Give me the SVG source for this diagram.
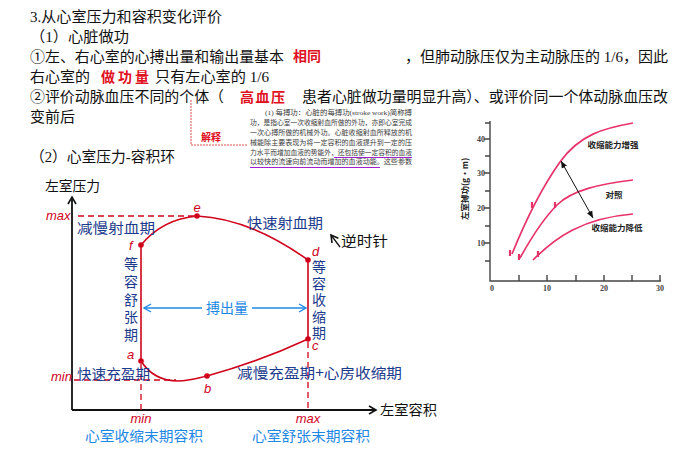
<svg xmlns="http://www.w3.org/2000/svg" width="696" height="461" viewBox="0 0 696 461">
<defs>
<style>
.body{font-family:"Liberation Serif","Noto Sans CJK SC",serif;font-size:15px;fill:#111}
.hl{font-family:"Noto Sans CJK SC",sans-serif;font-size:14px;fill:#e0101e;font-weight:bold}
.scan{font-family:"Liberation Serif","Noto Sans CJK SC",serif;font-size:7px;fill:#3a3a3a}
.hand{font-family:"Noto Sans CJK SC",sans-serif;font-size:14px}
.navy{fill:#1c3b8c}
.lblue{fill:#1e88e5}
.blk{fill:#111}
.vert{writing-mode:vertical-rl;text-orientation:upright}
.rit{font-family:"Liberation Sans",sans-serif;font-style:italic;font-size:13px;fill:#d0021b}
.loop{fill:none;stroke:#d0021b;stroke-width:1.6}
.dash{fill:none;stroke:#d0021b;stroke-width:1.3;stroke-dasharray:6,4}
.pink{fill:none;stroke:#e8336a;stroke-width:1.7}
.axis{fill:none;stroke:#111;stroke-width:1.8}
.cax{fill:none;stroke:#444;stroke-width:1.4}
.tick{font-family:"Liberation Serif",serif;font-size:8px;font-weight:bold;fill:#444}
.clab{font-family:"Noto Sans CJK SC",sans-serif;font-size:8.5px;font-weight:bold;fill:#222}
.dot{fill:#d0021b}
</style>
<marker id="chev" markerWidth="10" markerHeight="10" refX="8" refY="5" orient="auto" markerUnits="userSpaceOnUse">
<path d="M1,1 L8,5 L1,9" fill="none" stroke="#111" stroke-width="1.6"/>
</marker>
<marker id="chevb" markerWidth="10" markerHeight="10" refX="8" refY="5" orient="auto-start-reverse" markerUnits="userSpaceOnUse">
<path d="M1,1 L8,5 L1,9" fill="none" stroke="#1e88e5" stroke-width="1.4"/>
</marker>
<marker id="tri" markerWidth="8" markerHeight="8" refX="7" refY="4" orient="auto-start-reverse" markerUnits="userSpaceOnUse">
<path d="M0,1 L7,4 L0,7 Z" fill="#111"/>
</marker>
</defs>
<rect width="696" height="461" fill="#fff"/>

<g id="heading-text">
<text class="body" x="30" y="22" textLength="192" lengthAdjust="spacingAndGlyphs">3.从心室压力和容积变化评价</text>
<text class="body" x="30" y="42" textLength="99" lengthAdjust="spacingAndGlyphs">（1）心脏做功</text>
<text class="body" x="30" y="62" textLength="254" lengthAdjust="spacingAndGlyphs">①左、右心室的心搏出量和输出量基本</text>
<text class="hl" x="293" y="61" textLength="28">相同</text>
<text class="body" x="405" y="62" textLength="263" lengthAdjust="spacingAndGlyphs">，但肺动脉压仅为主动脉压的 1/6，因此</text>
<text class="body" x="30" y="82" textLength="60" lengthAdjust="spacingAndGlyphs">右心室的</text>
<text class="hl" x="101" y="82" textLength="48">做功量</text>
<text class="body" x="155" y="82" textLength="114" lengthAdjust="spacingAndGlyphs">只有左心室的 1/6</text>
<text class="body" x="30" y="102" textLength="194" lengthAdjust="spacingAndGlyphs">②评价动脉血压不同的个体（</text>
<text class="hl" x="240" y="102" textLength="45">高血压</text>
<text class="body" x="302" y="102" textLength="366" lengthAdjust="spacingAndGlyphs">患者心脏做功量明显升高）、或评价同一个体动脉血压改</text>
<text class="body" x="30" y="122" textLength="45" lengthAdjust="spacingAndGlyphs">变前后</text>
<text class="body" x="30" y="162" textLength="145" lengthAdjust="spacingAndGlyphs">（2）心室压力-容积环</text>
</g>

<g id="note">
<path d="M191,100 L191,145 L247,145" fill="none" stroke="#d9534f" stroke-width="1" stroke-dasharray="2,1"/>
<text x="201" y="141" font-family="Noto Sans CJK SC, sans-serif" font-size="10" font-weight="bold" fill="#e0101e">解释</text>
<text class="scan" x="265" y="115" textLength="147" lengthAdjust="spacingAndGlyphs">(1) 每搏功：心脏的每搏功(stroke work)简称搏</text>
<text class="scan" x="250" y="125" textLength="162" lengthAdjust="spacingAndGlyphs">功，是指心室一次收缩射血所做的外功，亦即心室完成</text>
<text class="scan" x="250" y="134.5" textLength="162" lengthAdjust="spacingAndGlyphs">一次心搏所做的机械外功。心脏收缩射血所释放的机</text>
<text class="scan" x="250" y="144.5" textLength="162" lengthAdjust="spacingAndGlyphs">械能除主要表现为将一定容积的血液提升到一定的压</text>
<text class="scan" x="250" y="154.5" textLength="162" lengthAdjust="spacingAndGlyphs">力水平而增加血液的势能外，还包括使一定容积的血液</text>
<text class="scan" x="250" y="164" textLength="162" lengthAdjust="spacingAndGlyphs">以较快的流速向前流动而增加的血液动能。这些参数</text>
<path d="M334,157.5 L412,157.5 M250,167.5 L380,167.5" stroke="#a020d0" stroke-width="1.1" fill="none"/>
</g>

<g id="sv-chart">
<path class="cax" d="M490,121 L490,281 L661,281"/>
<path class="cax" d="M490,123 h-5 M490,139 h-6 M490,156 h-5 M490,173 h-6 M490,191 h-5 M490,208 h-6 M490,226 h-5 M490,243 h-6 M490,261 h-5"/>
<path class="cax" d="M519,281 v-6 M547,281 v-6 M576,281 v-6 M604,281 v-6 M632,281 v-6 M660,281 v-6"/>
<text class="tick" x="485" y="142" text-anchor="end">40</text>
<text class="tick" x="485" y="176" text-anchor="end">30</text>
<text class="tick" x="485" y="211" text-anchor="end">20</text>
<text class="tick" x="485" y="246" text-anchor="end">10</text>
<text class="tick" x="492" y="291" text-anchor="middle">0</text>
<text class="tick" x="547" y="291" text-anchor="middle">10</text>
<text class="tick" x="604" y="291" text-anchor="middle">20</text>
<text class="tick" x="660" y="291" text-anchor="middle">30</text>
<text class="clab" x="0" y="0" transform="translate(468,189) rotate(-90)" text-anchor="middle" font-size="8">左室搏功(g·m)</text>
<path class="pink" d="M512,254 C525,222 540,190 560,162 S605,128 633,123"/>
<path class="pink" d="M520,258 C530,240 542,220 557,205 S600,184 633,180"/>
<path class="pink" d="M533,260 C555,238 582,218 633,214"/>
<path d="M510,250 v6 M532,202 v6 M519,254 v6 M555,202 v6 M538,251 v6" stroke="#e8336a" stroke-width="2.2"/>
<line x1="561" y1="161" x2="593" y2="218" stroke="#111" stroke-width="1" marker-start="url(#tri)" marker-end="url(#tri)"/>
<text class="clab" x="613" y="148" text-anchor="middle">收缩能力增强</text>
<text class="clab" x="614" y="198" text-anchor="middle">对照</text>
<text class="clab" x="617" y="231" text-anchor="middle">收缩能力降低</text>
</g>

<g id="pv-axes">
<line class="axis" x1="72" y1="410" x2="72" y2="197" marker-end="url(#chev)"/>
<line class="axis" x1="72" y1="410" x2="376" y2="410" marker-end="url(#chev)"/>
<text class="hand blk" x="45" y="191" textLength="55" lengthAdjust="spacingAndGlyphs">左室压力</text>
<text class="hand blk" x="380" y="415" textLength="57" lengthAdjust="spacingAndGlyphs">左室容积</text>
<text class="rit" x="46" y="220">max</text>
<text class="rit" x="51" y="381">min</text>
<text class="rit" x="141" y="423" text-anchor="middle">min</text>
<text class="rit" x="308" y="423" text-anchor="middle">max</text>
<text class="hand lblue" x="85" y="441" textLength="118" lengthAdjust="spacingAndGlyphs">心室收缩末期容积</text>
<text class="hand lblue" x="252" y="441" textLength="118" lengthAdjust="spacingAndGlyphs">心室舒张末期容积</text>
</g>

<g id="connectors">
<path class="dash" d="M78,216 L194,216"/>
<path class="dash" d="M74,380 L176,380"/>
<path class="dash" d="M141,364 L141,410"/>
<path class="dash" d="M308,342 L308,410"/>
<path class="loop" d="M141,245 C155,228 175,218 197,216 C240,218 280,240 308,260"/>
<path class="loop" stroke-width="2" d="M308,260 L308,339"/>
<path class="loop" d="M308,339 C280,352 240,367 207,376 C198,378 190,381 178,381 C160,381 148,372 141,361"/>
<path class="loop" stroke-width="2" d="M141,361 L141,245"/>
<line x1="202" y1="308" x2="144" y2="308" stroke="#1e88e5" stroke-width="1.4" marker-end="url(#chevb)"/>
<line x1="252" y1="308" x2="306" y2="308" stroke="#1e88e5" stroke-width="1.4" marker-end="url(#chevb)"/>
<line x1="340" y1="247" x2="331" y2="235" stroke="#111" stroke-width="1.3" marker-end="url(#chev)"/>
</g>

<g id="node-e"><circle class="dot" cx="197" cy="216" r="2.8"/><text class="rit" x="197" y="212" text-anchor="middle">e</text><text class="hand navy" x="247" y="228" textLength="76" lengthAdjust="spacingAndGlyphs">快速射血期</text></g>
<g id="node-f"><circle class="dot" cx="141" cy="245" r="2.8"/><text class="rit" x="129" y="250">f</text><text class="hand navy" x="77" y="233" textLength="78" lengthAdjust="spacingAndGlyphs">减慢射血期</text></g>
<g id="node-d"><circle class="dot" cx="308" cy="260" r="2.8"/><text class="rit" x="312" y="256">d</text></g>
<g id="node-c"><circle class="dot" cx="308" cy="339" r="2.8"/><text class="rit" x="312" y="350">c</text></g>
<g id="node-a"><circle class="dot" cx="141" cy="361" r="2.8"/><text class="rit" x="127" y="359">a</text><text class="hand navy" x="77" y="379" textLength="73" lengthAdjust="spacingAndGlyphs">快速充盈期</text></g>
<g id="node-b"><circle class="dot" cx="207" cy="376" r="2.8"/><text class="rit" x="204" y="393">b</text><text class="hand navy" x="237" y="378" textLength="165" lengthAdjust="spacingAndGlyphs">减慢充盈期+心房收缩期</text></g>

<g id="labels-phases">
<text class="hand navy vert" x="131" y="257" font-size="15" letter-spacing="3.7">等容舒张期</text>
<text class="hand navy vert" x="319" y="260" font-size="13.5" letter-spacing="2.4">等容收缩期</text>
</g>
<text class="hand lblue" x="227" y="313" text-anchor="middle" textLength="42" lengthAdjust="spacingAndGlyphs">搏出量</text>
<text class="hand blk" x="341" y="246" font-size="15" textLength="47" lengthAdjust="spacingAndGlyphs">逆时针</text>
</svg>
